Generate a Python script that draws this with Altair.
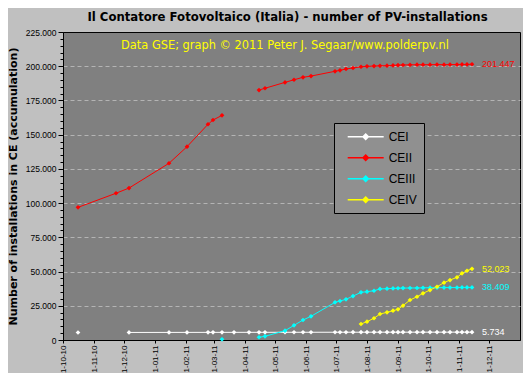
import altair as alt
import pandas as pd

dates = ["2010-10-16", "2010-11-23", "2010-12-06", "2011-01-15", "2011-02-02", "2011-02-23",
         "2011-02-28", "2011-03-09", "2011-03-21", "2011-04-05", "2011-04-15", "2011-04-21",
         "2011-05-11", "2011-05-20", "2011-05-29", "2011-06-06", "2011-06-30", "2011-07-05",
         "2011-07-11", "2011-07-18", "2011-07-26", "2011-08-01", "2011-08-08", "2011-08-14",
         "2011-08-21", "2011-08-27", "2011-09-01", "2011-09-06", "2011-09-13", "2011-09-20",
         "2011-09-26", "2011-10-03", "2011-10-10", "2011-10-17", "2011-10-23", "2011-10-30",
         "2011-11-04", "2011-11-09", "2011-11-14"]

cei = [5500, None, 5520, 5550, 5560, 5580, 5580, 5590, 5600, 5610, 5620, 5620, 5640, 5650,
       5650, 5660, 5670, 5680, 5680, 5690, 5690, 5700, 5700, 5705, 5710, 5710, 5712, 5715,
       5718, 5720, 5722, 5724, 5726, 5728, 5730, 5731, 5732, 5733, 5734]

ceii = [96900, 107200, 111000, 129100, 141200, 157600, 160700, 164100, None, None, 182600,
        183900, 188200, 190100, 191900, 192800, 196300, 197000, 198000, 198700, 199600,
        199900, 200100, 200300, 200400, 200600, 200800, 200900, 201000, 201100, 201100,
        201100, 201200, 201100, 201200, 201200, 201300, 201300, 201447]

ceiii = [None, None, None, None, None, None, None, 500, None, None, 2000, 2700, 6800, 10700,
         14600, 17300, 27500, 28500, 29700, 32100, 34800, 35300, 36000, 37300, 37500, 37700,
         37800, 37900, 38000, 38000, 38100, 38200, 38200, 38300, 38300, 38300, 38400, 38400,
         38409]

ceiv = [None] * 20 + [11700, 13400, 15900, 19000, 20200, 21400, 22400, 25100, 29200, 31600,
                      34100, 36500, 38900, 41900, 43800, 45800, 48700, 50600, 52023]

series_names = ["CEI", "CEII", "CEIII", "CEIV"]
series_colors = ["#FFFFFF", "#FF0000", "#00FFFF", "#FFFF00"]

title_text = "Il Contatore Fotovoltaico (Italia) - number of PV-installations"
y_title = "Number of installations in CE (accumulation)"
note_text = "Data GSE; graph \u00a9 2011 Peter J. Segaar/www.polderpv.nl"

month_ticks = [(2010, 10), (2010, 11), (2010, 12), (2011, 1), (2011, 2), (2011, 3), (2011, 4),
               (2011, 5), (2011, 6), (2011, 7), (2011, 8), (2011, 9), (2011, 10), (2011, 11),
               (2011, 12)]

rows = []
for name, vals in zip(series_names, [cei, ceii, ceiii, ceiv]):
    for d, v in zip(dates, vals):
        rows.append({"date": d, "value": v, "series": name})
df = pd.DataFrame(rows)

end_rows = []
for name, vals in zip(series_names, [cei, ceii, ceiii, ceiv]):
    end_rows.append({"date": dates[-1], "value": vals[-1], "series": name,
                     "label": f"{vals[-1]:,}".replace(",", ".")})
end_df = pd.DataFrame(end_rows)

color_scale = alt.Scale(domain=series_names, range=series_colors)
x_enc = alt.X("date:T", title=None,
              scale=alt.Scale(domain=[alt.DateTime(year=2010, month=10, date=1),
                                      alt.DateTime(year=2012, month=1, date=1)]),
              axis=alt.Axis(values=[alt.DateTime(year=y, month=m, date=1) for y, m in month_ticks],
                            tickCount=40,
                            format="%-d-%m-%y", labelAngle=-90, labelAlign="right",
                            labelBaseline="middle", labelFontSize=8, labelPadding=2,
                            tickSize=3, grid=False, domainColor="black", tickColor="black",
                            labelColor="black", labelFont="Liberation Sans",
                            labelOverlap=False))
y_enc = alt.Y("value:Q", title=y_title,
              scale=alt.Scale(domain=[0, 225000], nice=False),
              axis=alt.Axis(values=list(range(0, 225001, 5000)), tickCount=100,
                            labelExpr="datum.value % 25000 == 0 ? replace(format(datum.value, ','), ',', '.') : ''",
                            labelOverlap=False,
                            tickSize={"condition": {"test": "datum.value % 25000 == 0", "value": 5}, "value": 3},
                            gridOpacity={"condition": {"test": "datum.value % 25000 == 0 && datum.value > 0 && datum.value < 225000", "value": 1}, "value": 0},
                            gridColor="#B4B4B4", gridDash=[4, 3], labelFontSize=8.5,
                            labelPadding=2, domainColor="black", tickColor="black",
                            labelColor="black", labelFont="Liberation Sans",
                            titleFont="DejaVu Sans", titleFontSize=11, titleFontWeight="bold",
                            titleColor="black", titlePadding=6.5))

legend = alt.Legend(orient="none", legendX=271, legendY=91, title=None,
                    fillColor="#909090", strokeColor="black", padding=6.7,
                    symbolType="M0,0H6M2.55,0L3,-0.45L3.45,0L3,0.45Z",
                    symbolSize=144, symbolStrokeWidth=1.5,
                    labelFontSize=12, labelColor="black", labelFont="Liberation Sans",
                    rowPadding=8, labelOffset=34)

base = alt.Chart(df)
lines = base.mark_line(strokeWidth=1, invalid="break-paths-filter-domains").encode(
    x=x_enc, y=y_enc,
    color=alt.Color("series:N", scale=color_scale, legend=legend))
points = base.mark_point(shape="diamond", filled=True, size=22, opacity=1).encode(
    x="date:T", y="value:Q",
    color=alt.Color("series:N", scale=color_scale, legend=None)
).transform_filter("isValid(datum.value)")
labels = alt.Chart(end_df).mark_text(align="left", baseline="middle", dx=10, fontSize=9,
                                     font="Liberation Sans").encode(
    x="date:T", y="value:Q", text="label:N",
    color=alt.Color("series:N", scale=color_scale, legend=None))
note = alt.Chart(pd.DataFrame({"t": [note_text]})).mark_text(
    align="center", baseline="middle", fontSize=11.4, font="DejaVu Sans", color="#FFFF00"
).encode(x=alt.value(222), y=alt.value(14), text="t:N")

chart = alt.layer(lines, points, labels, note).properties(
    width=457, height=308,
    title=alt.TitleParams(title_text, font="DejaVu Sans", fontSize=11.7, fontWeight="bold",
                          color="black", anchor="middle", offset=4, dx=-4),
    background="#C0C0C0",
    autosize=alt.AutoSizeParams(type="none"),
    padding={"left": 55, "top": 24, "right": 3, "bottom": 33},
).configure_view(fill="#808080", stroke="black", strokeWidth=1)

chart.save("out.html", embed_options={"renderer": "svg", "actions": False})
